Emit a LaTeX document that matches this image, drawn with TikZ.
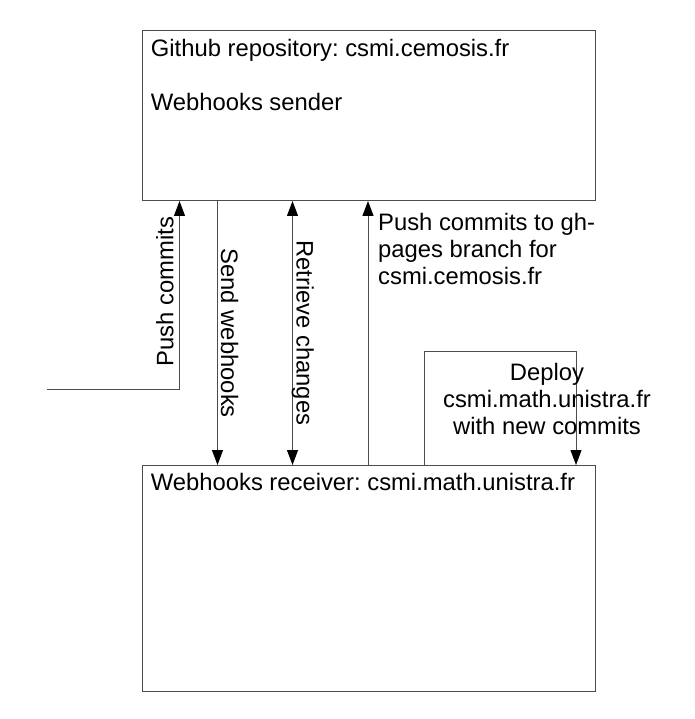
\documentclass[tikz,border=0pt]{standalone}
\usepackage{fontspec}
\setmainfont{Liberation Sans}
\usetikzlibrary{arrows.meta,calc}
\definecolor{linec}{gray}{0.3}
\frenchspacing
\begin{document}
\begin{tikzpicture}[x=1pt,y=-1pt,
  box/.style={draw=linec, line width=1pt, inner sep=0pt, anchor=north west},
  lbl/.style={inner sep=0pt, font=\fontsize{23.8}{27}\selectfont\frenchspacing},
  conn/.style={draw=linec, line width=1pt},
  tip/.style={-{Triangle[length=15pt,width=11pt,fill=black,color=black]}},
  tips/.style={{Triangle[length=15pt,width=11pt,fill=black,color=black]}-{Triangle[length=15pt,width=11pt,fill=black,color=black]}},
]
\useasboundingbox (0,0) rectangle (694,719);
% boxes
\node[box, minimum width=453.5pt, minimum height=170pt] (gh) at (141.5,30) {};
\node[box, minimum width=453.5pt, minimum height=226pt] (rx) at (141.5,465) {};
% box texts
\node[lbl, anchor=north west, align=left] (ghtxt) at (150.7,38.7) {Github repository: csmi.cemosis.fr\\[27pt]Webhooks sender};
\node[lbl, anchor=base west] (rxtxt) at (150.7,490.7) {Webhooks receiver: csmi.math.unistra.fr};
% connectors
\coordinate (pcs) at (47,389);
\draw[conn,tip] (pcs) -| ([xshift=38pt]gh.south west);
\draw[conn,tip] ([xshift=76pt]gh.south west) -- ([xshift=76pt]rx.north west);
\draw[conn,tips] ([xshift=151pt]gh.south west) -- ([xshift=151pt]rx.north west);
\draw[conn,tip] ([xshift=226.5pt]rx.north west) -- ([xshift=226.5pt]gh.south west);
\draw[conn,tip] ([xshift=283pt]rx.north west) -- ++(0,-113.3) -| ([xshift=434.5pt]rx.north west);
% connector labels
\node[lbl, rotate=90, anchor=base west] (pctxt) at (173.3,366.7) {Push commits};
\node[lbl, rotate=-90, anchor=base west] (swtxt) at (221,248.3) {Send webhooks};
\node[lbl, rotate=-90, anchor=base west] (rctxt) at (296.7,240) {Retrieve changes};
\node[lbl, anchor=north west, align=left] (ghptxt) at (378,212.8) {Push commits to gh-\\pages branch for\\csmi.cemosis.fr};
\node[lbl, anchor=north, align=center] (deptxt) at (547,363.4) {Deploy\\csmi.math.unistra.fr\\with new commits};
\end{tikzpicture}
\end{document}
